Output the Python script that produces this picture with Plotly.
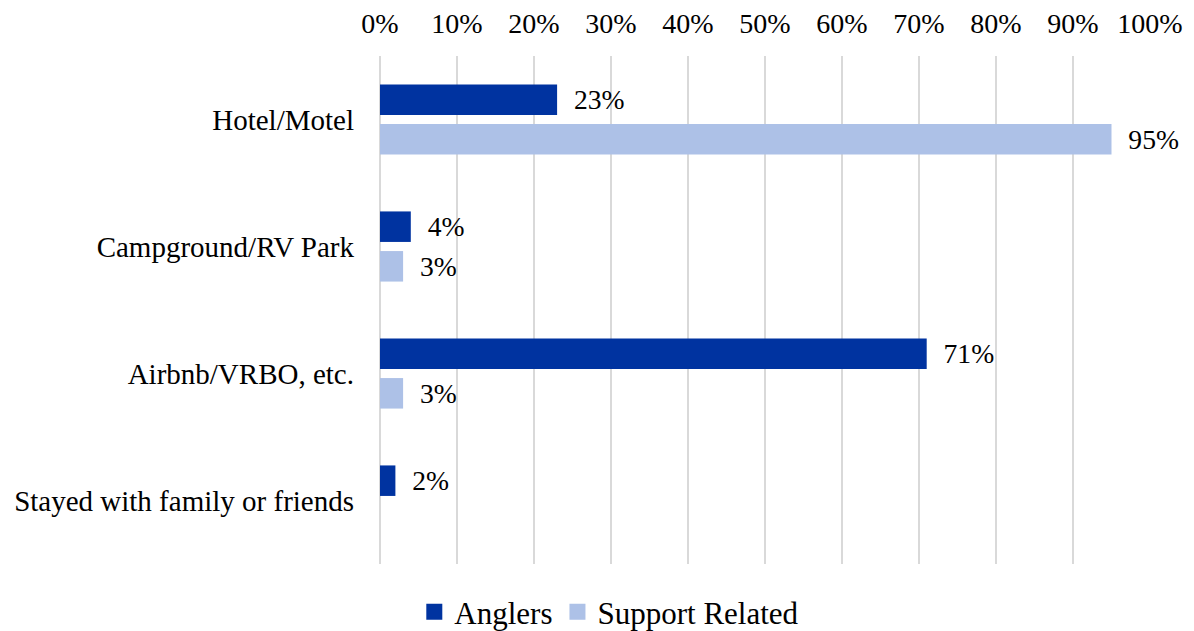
import plotly.graph_objects as go

categories = ["Hotel/Motel", "Campground/RV Park", "Airbnb/VRBO, etc.", "Stayed with family or friends"]
anglers = [23, 4, 71, 2]
support = [95, 3, 3, None]
series_names = ["Anglers", "Support Related"]
colors = ["#0033A0", "#ADC1E7"]
tick_vals = list(range(0, 101, 10))

FONT = "Liberation Serif, Times New Roman, serif"

def labels(vals):
    return ["\u00a0\u00a0%d%%" % v if v is not None else "" for v in vals]

fig = go.Figure()
for name, vals, col in zip(series_names, [anglers, support], colors):
    fig.add_trace(go.Bar(
        y=categories, x=vals, name=name, orientation="h",
        marker=dict(color=col, line=dict(width=0)),
        text=labels(vals), textposition="outside", cliponaxis=False,
        textfont=dict(family=FONT, size=29, color="#000000"),
        hoverinfo="skip", showlegend=False, legendgroup=name,
    ))
# legend entries with larger square swatches
for name, col in zip(series_names, colors):
    fig.add_trace(go.Scatter(
        x=[None], y=[None], mode="markers", name=name, legendgroup=name,
        marker=dict(symbol="square", size=16, color=col, line=dict(width=0)),
        hoverinfo="skip", showlegend=True,
    ))

fig.update_layout(
    width=1186, height=623,
    margin=dict(l=372, r=44, t=48, b=67, autoexpand=False),
    paper_bgcolor="white", plot_bgcolor="white",
    barmode="group", bargap=0.376, bargroupgap=0.23,
    font=dict(family=FONT, size=28, color="#000000"),
    showlegend=True,
    legend=dict(orientation="h", xref="container", x=0.507, xanchor="center",
                yref="container", y=0.0305, yanchor="middle", itemwidth=30,
                font=dict(family=FONT, size=31), traceorder="normal"),
    xaxis=dict(side="top", range=[0, 100], tickvals=tick_vals, ticktext=["%d%%" % v for v in tick_vals],
               showgrid=True, gridcolor="#D9D9D9", gridwidth=1.5, zeroline=True, zerolinecolor="#D9D9D9",
               zerolinewidth=1.5, showline=False, ticks="", ticklabelstandoff=16, automargin=False,
               tickfont=dict(family=FONT, size=28)),
    yaxis=dict(categoryorder="array", categoryarray=categories, autorange="reversed",
               showgrid=False, showline=False, ticks="", ticklabelstandoff=25, automargin=False,
               tickfont=dict(family=FONT, size=29)),
)

fig.write_html("out.html")
